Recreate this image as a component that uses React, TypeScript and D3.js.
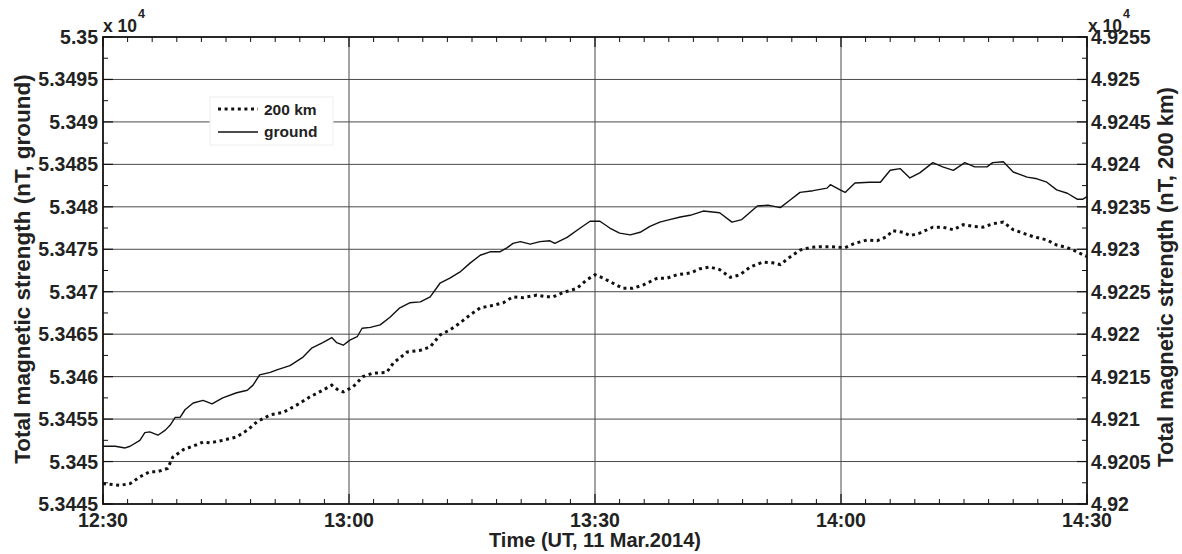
import React from "react";
import * as d3 from "d3";

// Time in minutes after 12:30 UT; values in nT
const groundT = [0, 1.5, 2.7, 3.3, 4.5, 5.1, 5.7, 6.7, 7.6, 8.2, 8.8, 9.4, 10.0, 11.0, 12.2, 13.3, 14.6, 16.3, 17.6, 18.3, 19.1, 20.4, 21.2, 22.8, 24.4, 25.5, 26.8, 27.9, 28.5, 29.3, 30.1, 31.0, 31.6, 32.6, 33.8, 35.0, 36.2, 37.4, 38.7, 39.9, 41.1, 42.3, 43.5, 44.8, 46.0, 47.2, 48.4, 49.3, 50.0, 50.9, 52.1, 53.3, 54.5, 55.1, 56.6, 58.2, 59.4, 60.6, 61.8, 63.0, 64.3, 65.5, 66.7, 67.9, 69.1, 70.4, 71.6, 73.2, 75.2, 76.7, 77.9, 79.8, 81.1, 82.6, 83.8, 85.0, 86.6, 88.3, 88.7, 89.9, 90.5, 91.7, 93.5, 94.8, 96.0, 97.2, 98.4, 99.6, 101.2, 102.4, 103.7, 105.1, 106.3, 107.8, 108.5, 109.8, 111.0, 112.7, 113.9, 115.1, 116.3, 117.6, 118.8, 119.5, 120.0];
const groundV = [53451.8, 53451.8, 53451.6, 53451.8, 53452.5, 53453.4, 53453.5, 53453.1, 53453.7, 53454.3, 53455.2, 53455.2, 53456.1, 53456.9, 53457.2, 53456.8, 53457.5, 53458.1, 53458.4, 53459.0, 53460.2, 53460.5, 53460.8, 53461.3, 53462.3, 53463.4, 53464.0, 53464.6, 53464.0, 53463.7, 53464.3, 53464.7, 53465.7, 53465.8, 53466.1, 53467.0, 53468.1, 53468.7, 53468.8, 53469.4, 53471.0, 53471.6, 53472.3, 53473.4, 53474.3, 53474.7, 53474.7, 53475.2, 53475.7, 53475.9, 53475.6, 53475.9, 53476.0, 53475.7, 53476.4, 53477.5, 53478.3, 53478.3, 53477.5, 53476.9, 53476.7, 53477.0, 53477.7, 53478.2, 53478.5, 53478.8, 53479.0, 53479.5, 53479.3, 53478.2, 53478.5, 53480.1, 53480.2, 53479.9, 53480.8, 53481.7, 53481.9, 53482.2, 53482.6, 53482.0, 53481.7, 53482.8, 53482.9, 53482.9, 53484.3, 53484.5, 53483.4, 53484.0, 53485.2, 53484.7, 53484.3, 53485.2, 53484.7, 53484.7, 53485.2, 53485.3, 53484.1, 53483.5, 53483.3, 53482.9, 53482.0, 53481.6, 53480.9, 53480.9, 53481.2];

const km200T = [0, 2.1, 3.3, 4.5, 5.7, 6.6, 7.9, 8.5, 9.8, 11.5, 12.2, 13.0, 14.6, 16.3, 17.6, 18.8, 20.4, 22.0, 23.7, 25.2, 26.8, 27.9, 28.7, 29.3, 30.5, 31.7, 32.9, 34.6, 35.4, 37.1, 38.7, 39.9, 41.1, 42.3, 43.5, 44.8, 46.0, 47.6, 48.8, 50.0, 51.2, 52.9, 54.1, 54.9, 56.1, 57.8, 59.0, 60.0, 61.0, 62.2, 63.4, 64.6, 65.9, 67.6, 68.8, 70.0, 71.6, 72.8, 74.0, 75.2, 76.5, 77.7, 78.9, 80.5, 81.7, 82.6, 83.8, 85.0, 86.2, 87.4, 88.7, 90.5, 91.7, 93.2, 94.4, 95.6, 96.3, 97.6, 98.4, 99.6, 101.2, 102.4, 103.7, 104.9, 106.1, 107.3, 108.5, 109.8, 111.0, 112.2, 113.4, 115.1, 116.3, 117.6, 118.8, 119.8, 120.0];
const km200V = [49202.4, 49202.2, 49202.4, 49203.2, 49203.8, 49203.8, 49204.2, 49205.5, 49206.4, 49207.0, 49207.3, 49207.2, 49207.5, 49207.9, 49208.7, 49209.7, 49210.5, 49210.8, 49211.7, 49212.6, 49213.4, 49214.0, 49213.4, 49213.2, 49213.8, 49215.0, 49215.4, 49215.5, 49216.6, 49217.9, 49218.1, 49218.5, 49219.9, 49220.5, 49221.3, 49222.3, 49223.1, 49223.4, 49223.7, 49224.4, 49224.3, 49224.6, 49224.4, 49224.4, 49224.9, 49225.4, 49226.4, 49227.0, 49226.6, 49226.0, 49225.4, 49225.4, 49225.8, 49226.6, 49226.6, 49227.0, 49227.2, 49227.7, 49227.9, 49227.6, 49226.7, 49227.0, 49227.9, 49228.5, 49228.4, 49228.2, 49229.1, 49229.9, 49230.2, 49230.3, 49230.3, 49230.2, 49230.7, 49231.1, 49231.0, 49231.5, 49232.2, 49232.0, 49231.6, 49231.9, 49232.6, 49232.6, 49232.3, 49232.9, 49232.7, 49232.6, 49233.0, 49233.2, 49232.3, 49231.9, 49231.5, 49231.1, 49230.5, 49230.2, 49229.7, 49229.2, 49229.2];

const xTickValues = [0, 30, 60, 90, 120];
const xTickLabels = ["12:30", "13:00", "13:30", "14:00", "14:30"];
const leftTickValues = [53445, 53450, 53455, 53460, 53465, 53470, 53475, 53480, 53485, 53490, 53495, 53500];
const leftTickLabels = ["5.3445", "5.345", "5.3455", "5.346", "5.3465", "5.347", "5.3475", "5.348", "5.3485", "5.349", "5.3495", "5.35"];
const rightTickValues = [49200, 49205, 49210, 49215, 49220, 49225, 49230, 49235, 49240, 49245, 49250, 49255];
const rightTickLabels = ["4.92", "4.9205", "4.921", "4.9215", "4.922", "4.9225", "4.923", "4.9235", "4.924", "4.9245", "4.925", "4.9255"];
const legendLabels = ["200 km", "ground"];

const W = 1182;
const H = 554;
const L = 103, R = 1087, T = 37, B = 504;
const FONT = "'Liberation Sans', Arial, Helvetica, sans-serif";

export default function App() {
  const x = d3.scaleLinear().domain([0, 120]).range([L, R]);
  const yL = d3.scaleLinear().domain([53445, 53500]).range([B, T]);
  const yR = d3.scaleLinear().domain([49200, 49255]).range([B, T]);

  const groundPath = d3
    .line<number>()
    .x((_, i) => x(groundT[i]))
    .y((d) => yL(d))(groundV) as string;
  const kmPath = d3
    .line<number>()
    .x((_, i) => x(km200T[i]))
    .y((d) => yR(d))(km200V) as string;

  const minorX = d3.range(0, 121, 3).filter((m) => m % 30 !== 0);
  const minorYL = d3.range(53447.5, 53500, 5);

  return (
    <svg
      width={W}
      height={H}
      style={{ position: "absolute", left: 0, top: 0, display: "block", background: "#fff" }}
      fontFamily={FONT}
    >
      <rect x={0} y={0} width={W} height={H} fill="#fff" />
      {/* horizontal grid */}
      {leftTickValues.slice(1, -1).map((v) => (
        <line key={"hg" + v} x1={L} x2={R} y1={yL(v)} y2={yL(v)} stroke="#4a4a4a" strokeWidth={1} />
      ))}
      {/* vertical grid */}
      {xTickValues.slice(1, -1).map((v) => (
        <line key={"vg" + v} x1={x(v)} x2={x(v)} y1={T} y2={B} stroke="#4a4a4a" strokeWidth={1} />
      ))}

      {/* data */}
      <path d={groundPath} fill="none" stroke="#111" strokeWidth={1.4} strokeLinejoin="round" />
      <path d={kmPath} fill="none" stroke="#111" strokeWidth={3} strokeDasharray="3,3.6" />

      {/* ticks */}
      {minorX.map((m) => (
        <g key={"mx" + m}>
          <line x1={x(m)} x2={x(m)} y1={B} y2={B - 5} stroke="#111" strokeWidth={1} />
          <line x1={x(m)} x2={x(m)} y1={T} y2={T + 5} stroke="#111" strokeWidth={1} />
        </g>
      ))}
      {xTickValues.map((m) => (
        <g key={"Mx" + m}>
          <line x1={x(m)} x2={x(m)} y1={B} y2={B - 10} stroke="#111" strokeWidth={1.2} />
          <line x1={x(m)} x2={x(m)} y1={T} y2={T + 10} stroke="#111" strokeWidth={1.2} />
        </g>
      ))}
      {minorYL.map((v) => (
        <g key={"my" + v}>
          <line x1={L} x2={L + 5} y1={yL(v)} y2={yL(v)} stroke="#111" strokeWidth={1} />
          <line x1={R} x2={R - 5} y1={yL(v)} y2={yL(v)} stroke="#111" strokeWidth={1} />
        </g>
      ))}
      {leftTickValues.map((v) => (
        <g key={"My" + v}>
          <line x1={L} x2={L + 10} y1={yL(v)} y2={yL(v)} stroke="#111" strokeWidth={1.2} />
          <line x1={R} x2={R - 10} y1={yL(v)} y2={yL(v)} stroke="#111" strokeWidth={1.2} />
        </g>
      ))}

      {/* axes box */}
      <rect x={L} y={T} width={R - L} height={B - T} fill="none" stroke="#111" strokeWidth={1.8} />

      {/* tick labels */}
      {leftTickValues.map((v, i) => (
        <text
          key={"lt" + v}
          x={L - 5}
          y={yL(v)}
          dy="0.36em"
          textAnchor="end"
          fontSize={19.5}
          fontWeight="bold"
          fill="#222"
        >
          {leftTickLabels[i]}
        </text>
      ))}
      {rightTickValues.map((v, i) => (
        <text
          key={"rt" + v}
          x={R + 4}
          y={yR(v)}
          dy="0.36em"
          textAnchor="start"
          fontSize={19.5}
          fontWeight="bold"
          fill="#222"
        >
          {rightTickLabels[i]}
        </text>
      ))}
      {xTickValues.map((v, i) => (
        <text key={"xt" + v} x={x(v)} y={527} textAnchor="middle" fontSize={19.5} fontWeight="bold" fill="#222">
          {xTickLabels[i]}
        </text>
      ))}

      {/* exponent labels */}
      <text x={L} y={32} fontSize={17.5} fontWeight="bold" fill="#222">
        x 10
        <tspan dx={1} dy={-14} fontSize={12.5}>4</tspan>
      </text>
      <text x={1088} y={32} fontSize={17.5} fontWeight="bold" fill="#222">
        x 10
        <tspan dx={1} dy={-14} fontSize={12.5}>4</tspan>
      </text>

      {/* axis titles */}
      <text x={595} y={547} textAnchor="middle" fontSize={20} fontWeight="bold" fill="#222">
        Time (UT, 11 Mar.2014)
      </text>
      <text
        transform={`translate(30,269) rotate(-90)`}
        textAnchor="middle"
        fontSize={22.5}
        fontWeight="bold"
        fill="#222"
      >
        Total magnetic strength (nT, ground)
      </text>
      <text
        transform={`translate(1173,277) rotate(-90)`}
        textAnchor="middle"
        fontSize={22}
        fontWeight="bold"
        fill="#222"
      >
        Total magnetic strength (nT, 200 km)
      </text>

      {/* legend */}
      <rect x={210} y={97} width={123} height={48} fill="#fff" stroke="#eeeeee" strokeWidth={1} />
      <line x1={218} x2={258} y1={109} y2={109} stroke="#111" strokeWidth={3} strokeDasharray="3,3.6" />
      <text x={264} y={115} fontSize={15.5} fontWeight="bold" fill="#222">
        {legendLabels[0]}
      </text>
      <line x1={218} x2={258} y1={132} y2={132} stroke="#111" strokeWidth={1.4} />
      <text x={264} y={137} fontSize={15.5} fontWeight="bold" fill="#222">
        {legendLabels[1]}
      </text>
    </svg>
  );
}
